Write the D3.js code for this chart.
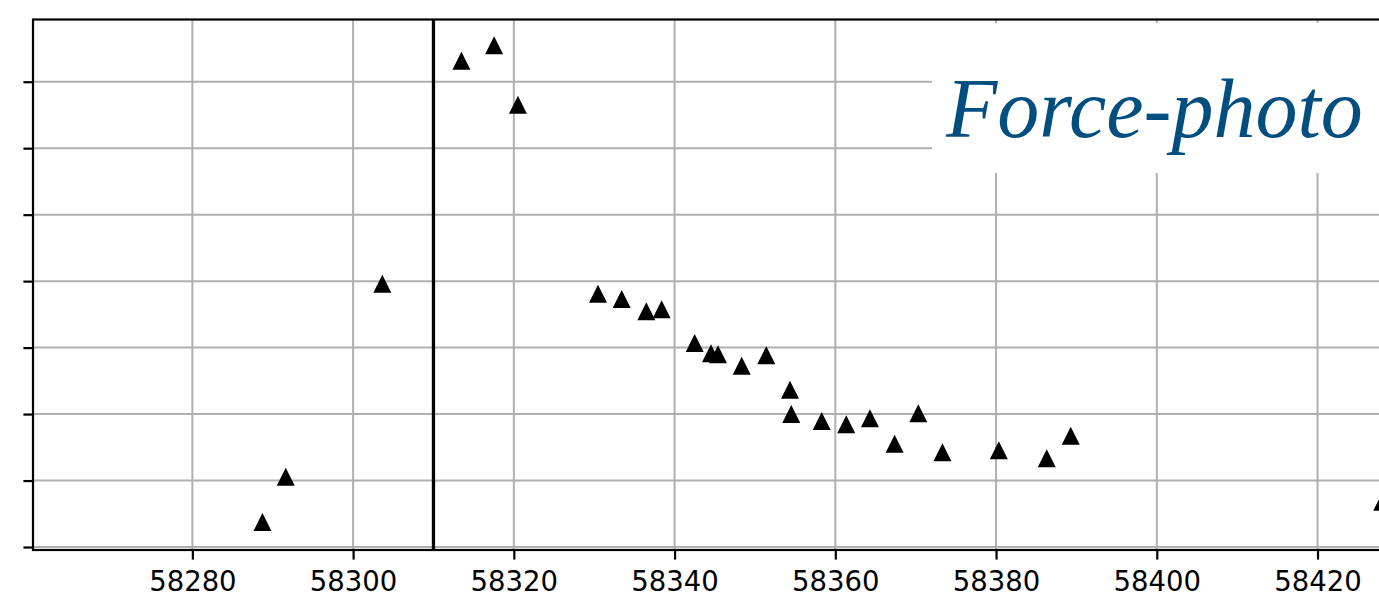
<!DOCTYPE html>
<html>
<head>
<meta charset="utf-8">
<script src="https://cdn.jsdelivr.net/npm/d3@7"></script>
<style>
  html, body { margin: 0; padding: 0; background: #ffffff; overflow: hidden; }
  svg { display: block; }
</style>
</head>
<body>
<svg id="chart" width="1379" height="600"></svg>
<script>
// Observation epochs (MJD) and measured signal for each epoch
const mjd = [
  58288.72, 58291.62, 58303.63, 58313.48, 58317.55, 58320.51,
  58330.47, 58333.42, 58336.48, 58338.39, 58342.50, 58344.53,
  58345.40, 58348.35, 58351.41, 58354.36, 58354.52, 58358.30,
  58361.36, 58364.31, 58367.38, 58370.33, 58373.33, 58380.34,
  58386.31, 58389.29, 58428.05
];
const signal = [
  0.376, 1.056, 3.961, 7.316, 7.549, 6.653,
  3.809, 3.731, 3.547, 3.576, 3.069, 2.914,
  2.899, 2.728, 2.884, 2.366, 2.001, 1.896,
  1.846, 1.936, 1.554, 2.011, 1.425, 1.455,
  1.334, 1.674, 0.682
];

// Axis ticks
const xTicks = [58280, 58300, 58320, 58340, 58360, 58380, 58400, 58420];
const yTicks = [0, 1, 2, 3, 4, 5, 6, 7];

// Reference epoch marked with a vertical line
const eventMjd = 58310;

// Panel label
const titleText = "Force-photo";

const svg = d3.select("#chart");

const plot = { left: 33, top: 19.5, right: 1397.9, bottom: 550 };

const x = d3.scaleLinear()
  .domain([58260.17, 58430])
  .range([plot.left, plot.right]);

const y = d3.scaleLinear()
  .domain([-0.045, 7.936])
  .range([plot.bottom, plot.top]);

const gridColor = "#b0b0b0";

// Grid lines
const grid = svg.append("g").attr("class", "grid");
grid.selectAll("line.gx")
  .data(xTicks)
  .join("line")
  .attr("class", "gx")
  .attr("x1", d => x(d)).attr("x2", d => x(d))
  .attr("y1", plot.top).attr("y2", plot.bottom)
  .attr("stroke", gridColor)
  .attr("stroke-width", 2);
grid.selectAll("line.gy")
  .data(yTicks)
  .join("line")
  .attr("class", "gy")
  .attr("x1", plot.left).attr("x2", plot.right)
  .attr("y1", d => y(d)).attr("y2", d => y(d))
  .attr("stroke", gridColor)
  .attr("stroke-width", 2);

// White backing behind the panel label
svg.append("rect")
  .attr("x", 932)
  .attr("y", 23)
  .attr("width", 470)
  .attr("height", 150)
  .attr("fill", "#ffffff");

// Reference epoch line
svg.append("line")
  .attr("x1", x(eventMjd)).attr("x2", x(eventMjd))
  .attr("y1", plot.top).attr("y2", plot.bottom)
  .attr("stroke", "#000000")
  .attr("stroke-width", 3.3);

// Triangle markers
const half = 9;
const triPath = `M0,${-half}L${-half},${half}L${half},${half}Z`;
const points = mjd.map((m, i) => ({ m, v: signal[i] }));
svg.append("g")
  .selectAll("path")
  .data(points)
  .join("path")
  .attr("d", triPath)
  .attr("transform", d => `translate(${x(d.m)},${y(d.v)})`)
  .attr("fill", "#000000");

// Frame
svg.append("rect")
  .attr("x", plot.left).attr("y", plot.top)
  .attr("width", plot.right - plot.left)
  .attr("height", plot.bottom - plot.top)
  .attr("fill", "none")
  .attr("stroke", "#000000")
  .attr("stroke-width", 2.2);

// Bottom axis
const xAxis = svg.append("g")
  .attr("transform", `translate(0,${plot.bottom})`)
  .call(d3.axisBottom(x).tickValues(xTicks).tickFormat(d3.format("d"))
    .tickSize(9.6).tickPadding(12).tickSizeOuter(0));
xAxis.select(".domain").remove();
xAxis.selectAll(".tick line").attr("stroke", "#000").attr("stroke-width", 2.2);
xAxis.selectAll(".tick text")
  .attr("fill", "#000")
  .attr("font-family", "'DejaVu Sans', sans-serif")
  .attr("font-size", 27.5)
  .attr("dy", "0.71em");

// Left axis (ticks only, no labels)
const yAxis = svg.append("g")
  .attr("transform", `translate(${plot.left},0)`)
  .call(d3.axisLeft(y).tickValues(yTicks).tickFormat("")
    .tickSize(9.6).tickSizeOuter(0));
yAxis.select(".domain").remove();
yAxis.selectAll(".tick line").attr("stroke", "#000").attr("stroke-width", 2.2);

// Panel label
svg.append("text")
  .attr("x", 946)
  .attr("y", 137)
  .attr("font-family", "'Liberation Serif', 'DejaVu Serif', serif")
  .attr("font-style", "italic")
  .attr("font-size", 84)
  .attr("fill", "#024f7f")
  .text(titleText);
</script>
</body>
</html>
